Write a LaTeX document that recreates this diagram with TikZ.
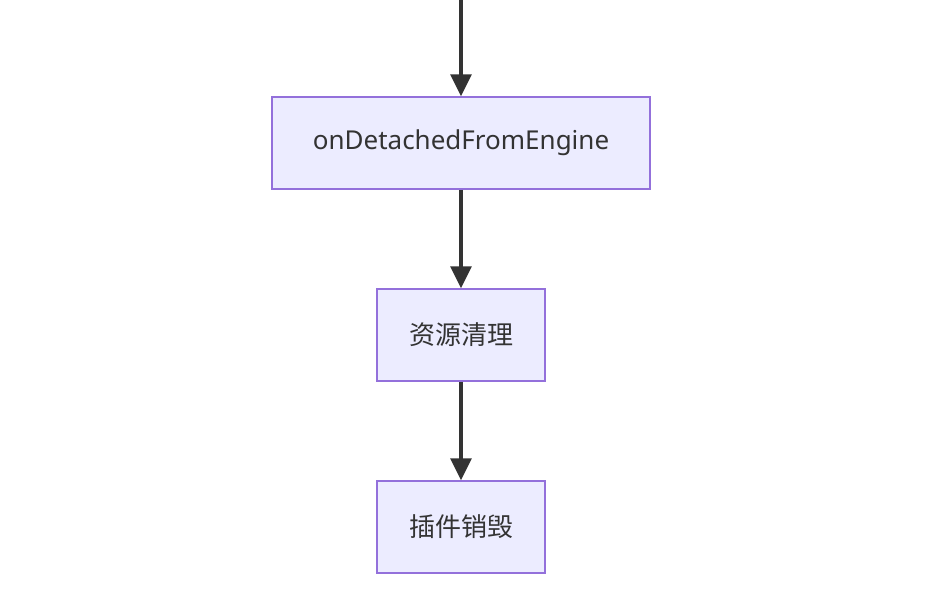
\documentclass[tikz,border=0pt]{standalone}
\usepackage{fontspec}
\setmainfont{Noto Sans}
\newfontfamily\cjk{Noto Sans CJK SC}
\usetikzlibrary{arrows.meta}
\begin{document}
\begin{tikzpicture}[x=1pt,y=-1pt,
  box/.style={draw=mmstroke,fill=mmfill,line width=1.5pt,inner sep=0pt,font=\fontsize{26}{30}\selectfont,text=black!80},
  arr/.style={draw=mmline,line width=3.5pt,-{Triangle[length=22pt,width=21pt]}}]
\definecolor{mmfill}{HTML}{ECECFF}
\definecolor{mmstroke}{HTML}{9370DB}
\definecolor{mmline}{HTML}{333333}
\useasboundingbox (0,0) rectangle (930,608);
\node[box,minimum width=378pt,minimum height=92pt] (a) at (461,143) {onDetachedFromEngine};
\node[box,minimum width=168pt,minimum height=92pt] (b) at (461,335) {\cjk 资源清理};
\node[box,minimum width=168pt,minimum height=92pt] (c) at (461,527) {\cjk 插件销毁};
\coordinate (top) at (461,0);
\draw[arr] (top) -- (a);
\draw[arr] (a) -- (b);
\draw[arr] (b) -- (c);
\end{tikzpicture}
\end{document}
